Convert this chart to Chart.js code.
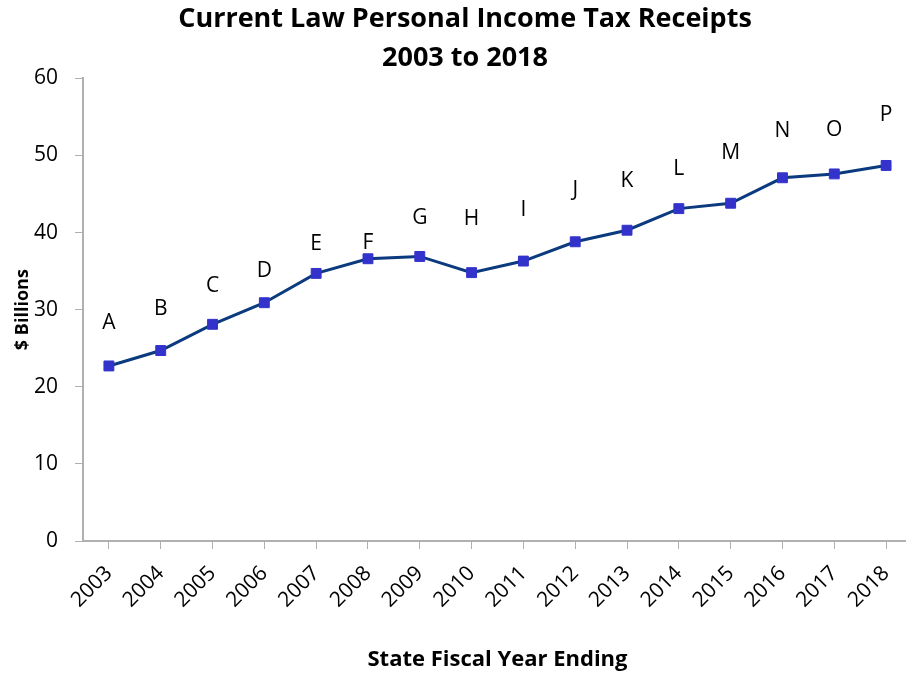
<!DOCTYPE html>
<html>
<head>
<meta charset="utf-8">
<script src="https://cdn.jsdelivr.net/npm/chart.js@4/dist/chart.umd.min.js"></script>
<style>
  html, body { margin: 0; padding: 0; background: #fff; overflow: hidden; }
  #wrap { width: 920px; height: 675px; }
</style>
</head>
<body>
<div id="wrap"><canvas id="myChart" width="920" height="675"></canvas></div>
<script>
// data
const years = ['2003', '2004', '2005', '2006', '2007', '2008', '2009', '2010',
  '2011', '2012', '2013', '2014', '2015', '2016', '2017', '2018'];
const receipts = [22.7, 24.7, 28.1, 30.9, 34.7, 36.6, 36.9, 34.8,
  36.3, 38.8, 40.3, 43.1, 43.8, 47.1, 47.6, 48.7];
const letters = ['A', 'B', 'C', 'D', 'E', 'F', 'G', 'H',
  'I', 'J', 'K', 'L', 'M', 'N', 'O', 'P'];
// where each letter sits, in $ billions
const letterAt = [28.3, 30.1, 33.1, 35.0, 38.5, 38.7, 41.9, 41.8,
  42.9, 45.5, 46.7, 48.2, 50.3, 53.1, 53.3, 55.3];
const yTicks = [0, 10, 20, 30, 40, 50, 60];

const FONT = "'Open Sans', 'Noto Sans', sans-serif";

const letterPlugin = {
  id: 'letters',
  afterDatasetsDraw(chart) {
    const { ctx, scales } = chart;
    ctx.save();
    ctx.font = '21px ' + FONT;
    ctx.fillStyle = '#000';
    ctx.textAlign = 'center';
    ctx.textBaseline = 'middle';
    letters.forEach((t, i) => {
      ctx.fillText(t, scales.x.getPixelForValue(i), scales.y.getPixelForValue(letterAt[i]));
    });
    ctx.restore();
  }
};

const ctx = document.getElementById('myChart').getContext('2d');
new Chart(ctx, {
  type: 'line',
  data: {
    labels: years,
    datasets: [{
      label: 'Receipts',
      data: receipts,
      borderColor: '#0b3a7e',
      borderWidth: 3,
      backgroundColor: '#3333cc',
      pointStyle: 'rect',
      pointRadius: 7,
      pointBorderColor: '#3333cc',
      pointBorderWidth: 1,
      tension: 0,
      fill: false
    }]
  },
  options: {
    responsive: false,
    animation: false,
    layout: { padding: { left: 12, right: 2, top: 0, bottom: 0 } },
    plugins: {
      legend: { display: false },
      tooltip: { enabled: false },
      title: {
        display: true,
        text: ['Current Law Personal Income Tax Receipts', '2003 to 2018'],
        color: '#000',
        font: { family: FONT, size: 27, weight: 'bold', lineHeight: 1.45 },
        padding: { top: 0, bottom: 0 }
      }
    },
    scales: {
      x: {
        offset: true,
        grid: { drawOnChartArea: false, drawTicks: true, tickLength: 8, color: '#b0b0b0', offset: false },
        border: { color: '#b0b0b0', width: 2 },
        ticks: { color: '#000', font: { family: FONT, size: 21 }, maxRotation: 45, minRotation: 45, padding: 12 },
        title: {
          display: true,
          text: 'State Fiscal Year Ending',
          color: '#000',
          font: { family: FONT, size: 22, weight: 'bold' },
          padding: { top: 4, bottom: 2 }
        },
        afterFit(scale) { scale.height = 134; }
      },
      y: {
        min: 0,
        max: 60,
        afterBuildTicks(scale) { scale.ticks = yTicks.map(v => ({ value: v })); },
        grid: { drawOnChartArea: false, drawTicks: true, tickLength: 8, color: '#b0b0b0' },
        border: { color: '#b0b0b0', width: 2 },
        ticks: { color: '#000', font: { family: FONT, size: 21 }, padding: 17 },
        title: {
          display: true,
          text: '$ Billions',
          color: '#000',
          font: { family: FONT, size: 18, weight: 'bold' },
          padding: { top: 0, bottom: 0 }
        },
        afterFit(scale) { scale.width = 71; }
      }
    }
  },
  plugins: [letterPlugin]
});
</script>
</body>
</html>
